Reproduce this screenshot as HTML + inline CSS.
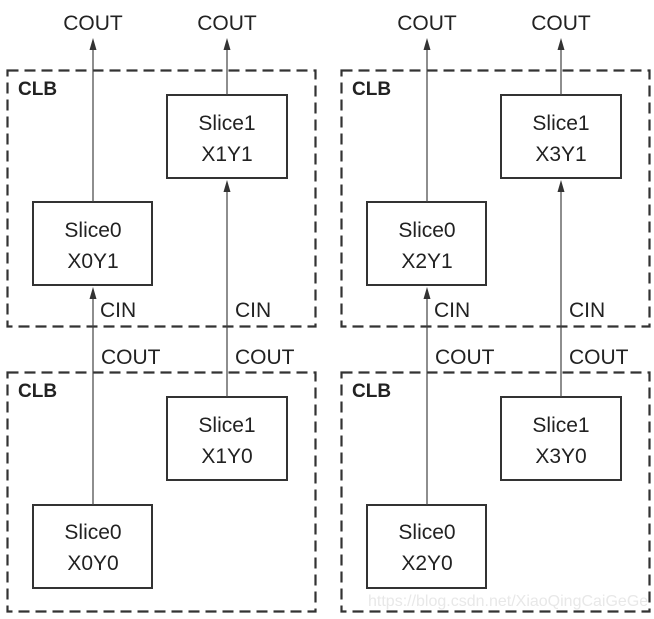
<!DOCTYPE html>
<html><head><meta charset="utf-8"><style>body{margin:0;background:#fff}svg{display:block}</style></head><body>
<svg width="654" height="619" viewBox="0 0 654 619" xmlns="http://www.w3.org/2000/svg" font-family="Liberation Sans, Arial, sans-serif">
<g id="L">
<rect x="7.5" y="70.5" width="308" height="256" fill="none" stroke="#333" stroke-width="2.2" stroke-dasharray="11,6"/>
<rect x="7.5" y="372.5" width="308" height="239" fill="none" stroke="#333" stroke-width="2.2" stroke-dasharray="11,6"/>
<text x="18" y="95" font-size="19" font-weight="bold" fill="#222">CLB</text>
<text x="18" y="397" font-size="19" font-weight="bold" fill="#222">CLB</text>
<g fill="#fff" stroke="#333" stroke-width="2">
<rect x="167" y="95" width="120" height="83"/>
<rect x="33" y="202" width="119" height="83"/>
<rect x="167" y="397" width="120" height="83"/>
<rect x="33" y="505" width="119" height="83"/>
</g>
<g stroke="#444" stroke-width="1.2">
<line x1="93" y1="202" x2="93" y2="45"/>
<line x1="227" y1="95" x2="227" y2="45"/>
<line x1="227" y1="397" x2="227" y2="186"/>
<line x1="93" y1="505" x2="93" y2="293"/>
</g>
<g fill="#333">
<polygon points="93,38 89.5,50 96.5,50"/>
<polygon points="227,38 223.5,50 230.5,50"/>
<polygon points="227,180 223.5,192 230.5,192"/>
<polygon points="93,287 89.5,299 96.5,299"/>
</g>
<g font-size="21" fill="#222" text-anchor="middle">
<text x="93" y="30">COUT</text>
<text x="227" y="30">COUT</text>
<text x="227" y="130">Slice1</text>
<text x="227" y="161">X1Y1</text>
<text x="93" y="237">Slice0</text>
<text x="93" y="268">X0Y1</text>
<text x="227" y="432">Slice1</text>
<text x="227" y="463">X1Y0</text>
<text x="93" y="539">Slice0</text>
<text x="93" y="570">X0Y0</text>
</g>
<g font-size="21" fill="#222">
<text x="100" y="317">CIN</text>
<text x="235" y="317">CIN</text>
<text x="101" y="364">COUT</text>
<text x="235" y="364">COUT</text>
</g>
</g>
<g transform="translate(334,0)">
<rect x="7.5" y="70.5" width="308" height="256" fill="none" stroke="#333" stroke-width="2.2" stroke-dasharray="11,6"/>
<rect x="7.5" y="372.5" width="308" height="239" fill="none" stroke="#333" stroke-width="2.2" stroke-dasharray="11,6"/>
<text x="18" y="95" font-size="19" font-weight="bold" fill="#222">CLB</text>
<text x="18" y="397" font-size="19" font-weight="bold" fill="#222">CLB</text>
<g fill="#fff" stroke="#333" stroke-width="2">
<rect x="167" y="95" width="120" height="83"/>
<rect x="33" y="202" width="119" height="83"/>
<rect x="167" y="397" width="120" height="83"/>
<rect x="33" y="505" width="119" height="83"/>
</g>
<g stroke="#444" stroke-width="1.2">
<line x1="93" y1="202" x2="93" y2="45"/>
<line x1="227" y1="95" x2="227" y2="45"/>
<line x1="227" y1="397" x2="227" y2="186"/>
<line x1="93" y1="505" x2="93" y2="293"/>
</g>
<g fill="#333">
<polygon points="93,38 89.5,50 96.5,50"/>
<polygon points="227,38 223.5,50 230.5,50"/>
<polygon points="227,180 223.5,192 230.5,192"/>
<polygon points="93,287 89.5,299 96.5,299"/>
</g>
<g font-size="21" fill="#222" text-anchor="middle">
<text x="93" y="30">COUT</text>
<text x="227" y="30">COUT</text>
<text x="227" y="130">Slice1</text>
<text x="227" y="161">X3Y1</text>
<text x="93" y="237">Slice0</text>
<text x="93" y="268">X2Y1</text>
<text x="227" y="432">Slice1</text>
<text x="227" y="463">X3Y0</text>
<text x="93" y="539">Slice0</text>
<text x="93" y="570">X2Y0</text>
</g>
<g font-size="21" fill="#222">
<text x="100" y="317">CIN</text>
<text x="235" y="317">CIN</text>
<text x="101" y="364">COUT</text>
<text x="235" y="364">COUT</text>
</g>
<text x="34" y="606" font-size="16" fill="#e8e8e8">https://blog.csdn.net/XiaoQingCaiGeGe</text>
</g>
</svg>
</body></html>
